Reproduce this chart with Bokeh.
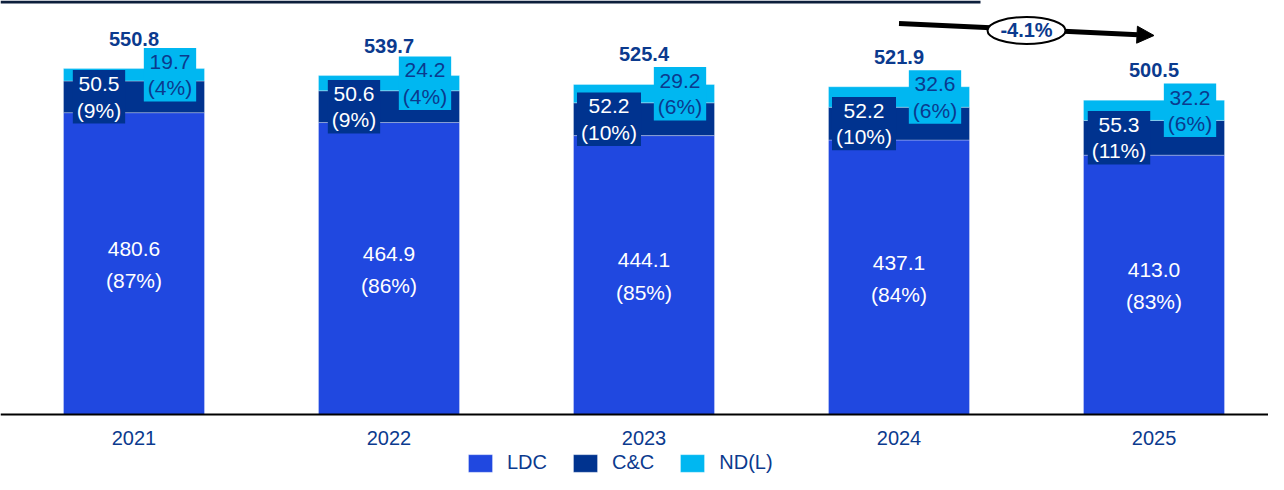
from bokeh.plotting import figure
from bokeh.models import (ColumnDataSource, Legend, LegendItem, Arrow, Span,
                          NormalHead, BoxAnnotation, Range1d)
from bokeh.core.properties import value
from bokeh.embed import file_html
from bokeh.resources import INLINE

years = ["2021", "2022", "2023", "2024", "2025"]
ldc = [480.6, 464.9, 444.1, 437.1, 413.0]
cc = [50.5, 50.6, 52.2, 52.2, 55.3]
nd = [19.7, 24.2, 29.2, 32.6, 32.2]
totals = [550.8, 539.7, 525.4, 521.9, 500.5]
ldc_pct = ["87%", "86%", "85%", "84%", "83%"]
cc_pct = ["9%", "9%", "10%", "10%", "11%"]
nd_pct = ["4%", "4%", "6%", "6%", "6%"]
change_label = "-4.1%"

C_LDC = "#2048E0"
C_CC = "#00338F"
C_ND = "#00B7F1"
NAVY = "#0B3A8E"
FONT = "Liberation Sans"

xs = list(range(len(years)))
src = ColumnDataSource(dict(
    x=xs, ldc=ldc, cc=cc, nd=nd, total=totals, zero=[0] * len(xs), year=years,
    ldc_y=[a / 2 for a in ldc],
    cc_y=[a + b / 2 for a, b in zip(ldc, cc)],
    nd_y=[a + b + c / 2 for a, b, c in zip(ldc, cc, nd)],
    top=[a + b + c for a, b, c in zip(ldc, cc, nd)],
    ldc_t=[f"{v:.1f}\n({p})" for v, p in zip(ldc, ldc_pct)],
    cc_t=[f"{v:.1f}\n({p})" for v, p in zip(cc, cc_pct)],
    nd_t=[f"{v:.1f}\n({p})" for v, p in zip(nd, nd_pct)],
    tot_t=[f"{v:.1f}" for v in totals],
))

PX = 0.628  # pixels per unit
Y_TOP = 414 / PX
Y_BOT = -60 / PX
p = figure(width=1268, height=474, output_backend="svg", toolbar_location=None,
           x_range=Range1d(-0.5235, 4.449), y_range=Range1d(Y_BOT, Y_TOP),
           min_border_left=0, min_border_right=0, min_border_top=0, min_border_bottom=0)
p.outline_line_color = None
p.grid.visible = False
p.axis.visible = False
p.background_fill_color = "white"

rs = p.vbar_stack(["ldc", "cc", "nd"], x="x", width=0.553, source=src,
                  color=[C_LDC, C_CC, C_ND], line_color="white", line_alpha=0.3, line_width=1)

# baseline (category axis line)
p.add_layout(Span(location=0, dimension="width", line_color="black", line_width=2))
p.text(x="x", y="zero", text="year", source=src, y_offset=23, text_color=NAVY,
       text_font=value(FONT), text_font_size="20px", text_align="center",
       text_baseline="middle")

common = dict(text_font=value(FONT), text_font_size="21px", text_align="center",
              text_baseline="middle")

p.text(x="x", y="cc_y", text="cc_t", source=src, x_offset=-35, text_color="white",
       background_fill_color=C_CC, padding=(4, 2), text_line_height=1.15, **common)
p.text(x="x", y="nd_y", text="nd_t", source=src, x_offset=36, text_color=NAVY,
       background_fill_color=C_ND, padding=(4, 2), text_line_height=1.15, **common)
p.text(x="x", y="ldc_y", text="ldc_t", source=src, y_offset=1, text_color="white",
       text_line_height=1.4, **common)
p.text(x="x", y="top", text="tot_t", source=src, y_offset=-30, text_color=NAVY,
       text_font=value(FONT), text_font_size="20px", text_font_style="bold",
       text_align="center", text_baseline="middle")

# change arrow from 2024 to 2025
arrow = Arrow(x_start=3.0, y_start=622.6, x_end=4.0, y_end=603.5, line_color="black",
              line_width=5, level="underlay",
              end=NormalHead(size=17, fill_color="black", line_color="black"))
p.add_layout(arrow)
ell_src = ColumnDataSource(dict(x=[3.5], y=[611.5], t=[change_label]))
p.ellipse(x="x", y="y", width=78, height=27, width_units="screen", height_units="screen",
          source=ell_src, fill_color="white", line_color="black", line_width=2)
p.text(x="x", y="y", text="t", source=ell_src, text_color=NAVY, text_font=value(FONT),
       text_font_size="20px", text_font_style="bold", text_align="center",
       text_baseline="middle")

# dark rule along the top edge
p.add_layout(BoxAnnotation(left=0, right=980, top=Y_TOP, bottom=Y_TOP - 3 / PX,
                           left_units="screen", right_units="screen",
                           fill_color="#0D1F3C", fill_alpha=1, line_color=None))

legend = Legend(items=[LegendItem(label=n, renderers=[r]) for n, r in zip(["LDC", "C&C", "ND(L)"], rs)],
                location=(465, 0), orientation="horizontal", glyph_width=30, glyph_height=22,
                label_standoff=12, spacing=23, padding=0, margin=0, border_line_color=None,
                background_fill_alpha=0, label_text_font=FONT, label_text_font_size="20px",
                label_text_color=NAVY)
p.add_layout(legend, "center")

open("out.html", "w").write(file_html(p, INLINE))
